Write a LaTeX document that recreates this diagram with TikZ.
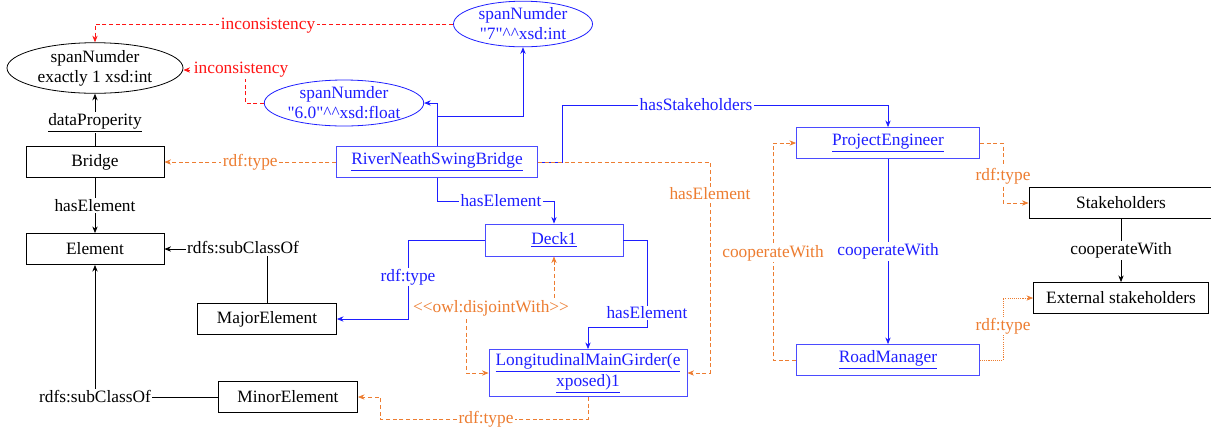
\documentclass[tikz,border=0pt]{standalone}
\usepackage{fontspec}
\setmainfont{Liberation Serif}[Ligatures=TeXOff]
\usetikzlibrary{shapes.geometric,arrows.meta}
\definecolor{ob}{RGB}{30,30,255}
\definecolor{oo}{RGB}{237,125,49}
\definecolor{orr}{RGB}{255,20,20}
\tikzset{
  every node/.style={font=\fontsize{13}{15}\selectfont},
  wh/.style 2 args={minimum width=#1*0.75pt, minimum height=#2*0.75pt},
  kbox/.style={draw=black, line width=0.6pt, inner sep=0pt, align=center},
  bbox/.style={draw=ob!80!white, line width=0.6pt, inner sep=0pt, align=center, text=ob},
  kell/.style={ellipse, draw=black, line width=0.6pt, inner sep=0pt, align=center},
  bell/.style={ellipse, draw=ob, line width=0.6pt, inner sep=0pt, align=center, text=ob},
  arr/.style={-{Stealth[length=5pt,width=4pt]}},
  kline/.style={draw=black, line width=0.6pt},
  bline/.style={draw=ob, line width=0.6pt},
  oline/.style={draw=oo, line width=0.6pt, dash pattern=on 3pt off 2pt},
  odot/.style={draw=oo, line width=0.6pt, dash pattern=on 0.8pt off 0.8pt},
  rline/.style={draw=orr, line width=0.6pt, dash pattern=on 3pt off 2pt},
  lbl/.style={fill=white, inner sep=1pt},
  klbl/.style={lbl, text=black},
  blbl/.style={lbl, text=ob},
  olbl/.style={lbl, text=oo},
  rlbl/.style={lbl, text=orr},
}
\begin{document}
\begin{tikzpicture}[x=0.75pt, y=-0.75pt]
\useasboundingbox (0,0) rectangle (1211,430);
% nodes
\node[kell, wh={176}{41}] (E0) at (95,68) {spanNumder\\exactly 1 xsd:int};
\node[bell, wh={139}{40}] (E7) at (523,24) {spanNumder\\"7"\textasciicircum\textasciicircum xsd:int};
\node[bell, wh={152}{46}] (E6) at (344,103) {spanNumder\\"6.0"\textasciicircum\textasciicircum xsd:float};
\node[bbox, wh={201}{31}] (RNSB) at (437,162) {\underline{RiverNeathSwingBridge}};
\node[kbox, wh={138}{31}] (Bridge) at (95,162) {Bridge};
\node[kbox, wh={138}{31}] (Element) at (95,249) {Element};
\node[kbox, wh={139}{31}] (Major) at (267,319) {MajorElement};
\node[kbox, wh={139}{31}] (Minor) at (288,397) {MinorElement};
\node[bbox, wh={138}{32}] (Deck) at (554,240) {\underline{Deck1}};
\node[bbox, wh={198}{47}] (LMG) at (588,373) {\underline{LongitudinalMainGirder(e}\\[1pt]\underline{xposed)1}};
\node[bbox, wh={183}{31}] (PE) at (888,143) {\underline{ProjectEngineer}};
\node[bbox, wh={183}{31}] (RM) at (888,360) {\underline{RoadManager}};
\node[kbox, wh={184}{31}] (Stake) at (1121,203) {Stakeholders};
\node[kbox, wh={175}{31}] (Ext) at (1121,298) {External stakeholders};
\coordinate (j1) at (437,116);
% red inconsistency
\draw[rline, arr] (E7.west) -| (E0.north);
\node[rlbl] at (268,26) {inconsistency};
\draw[rline, arr] (E6.west) -| (245,70) -- (E0.east |- 245,70);
\node[rlbl] at (241,70) {inconsistency};
% blue from RNSB to ellipses
\draw[bline, arr] (RNSB.north) |- (E6.east);
\draw[bline, arr] (j1) -| (E7.south);
% hasStakeholders
\draw[bline, arr] (RNSB.east) -| (562,105) -| (PE.north);
\node[blbl] at (696,105) {hasStakeholders};
% orange hasElement
\draw[oline, arr] (RNSB.east) -| (710,373) -- (LMG.east);
\node[olbl] at (710,194) {hasElement};
% rdf:type RNSB -> Bridge
\draw[oline, arr] (RNSB.west) -- (Bridge.east) node[olbl, midway] {rdf:type};
% dataProperity
\draw[kline, arr] (Bridge.north) -- (E0.south) node[klbl, pos=0.45] {\underline{dataProperity}};
% hasElement Bridge -> Element
\draw[kline, arr] (Bridge.south) -- (Element.north) node[klbl, midway] {hasElement};
% RNSB -> Deck1
\draw[bline, arr] (RNSB.south) -- (437,201) -| (Deck.north);
\node[blbl] at (501,201) {hasElement};
% Deck1 -> Major
\draw[bline, arr] (Deck.west) -| (408,319) -- (Major.east);
\node[blbl] at (408,277) {rdf:type};
% Deck1 -> LMG
\draw[bline, arr] (Deck.east) -| (647,327) -| (LMG.north);
\node[blbl] at (647,313) {hasElement};
% disjointWith
\draw[oline, {Stealth[length=5pt,width=4pt]}-{Stealth[length=5pt,width=4pt]}] (Deck.south) -- (554,308) -- (466,308) |- (LMG.west);
\node[olbl] at (491,308) {<<owl:disjointWith>>};
% LMG -> Minor
\draw[oline, arr] (LMG.south) |- (380,419) |- (Minor.east);
\node[olbl] at (486,419) {rdf:type};
% Major -> Element
\draw[kline, arr] (Major.north) |- (Element.east);
\node[klbl] at (243,248) {rdfs:subClassOf};
% Minor -> Element
\draw[kline, arr] (Minor.west) -| (Element.south);
\node[klbl] at (95,397) {rdfs:subClassOf};
% PE -> RM
\draw[bline, arr] (PE.south) -- (RM.north) node[blbl, midway] {cooperateWith};
% RM -> PE orange
\draw[oline, arr] (RM.west) -| (773,143) -- (PE.west);
\node[olbl] at (773,253) {cooperateWith};
% PE -> Stakeholders
\draw[oline, arr] (PE.east) -| (1003,203) -- (Stake.west);
\node[olbl] at (1003,176) {rdf:type};
% RM -> External
\draw[odot, arr] (RM.east) -| (1003,298) -- (Ext.west);
\node[olbl] at (1003,326) {rdf:type};
% Stake -> External
\draw[kline, arr] (Stake.south) -- (Ext.north) node[klbl, midway] {cooperateWith};
\end{tikzpicture}
\end{document}
